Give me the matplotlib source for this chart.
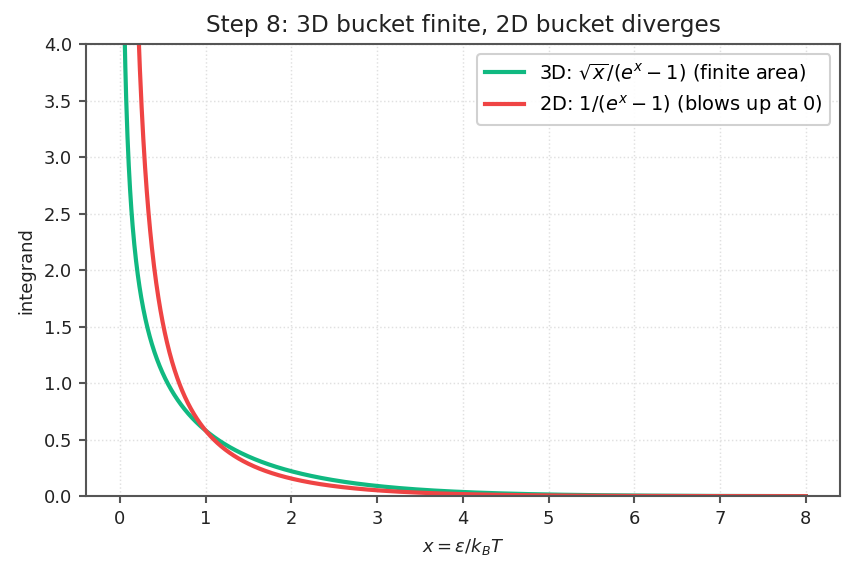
import matplotlib
matplotlib.use('Agg')
import matplotlib.pyplot as plt
import numpy as np

# Energy grid x = eps / k_B T and the two integrands named in the legend
x = np.linspace(0.005, 8, 1600)
integrand_3d = np.sqrt(x) / np.expm1(x)
integrand_2d = 1.0 / np.expm1(x)

labels = [r'3D: $\sqrt{x}/(e^x-1)$ (finite area)',
          r'2D: $1/(e^x-1)$ (blows up at 0)']
colors = ['#10b981', '#ef4444']

x_ticks = [0, 1, 2, 3, 4, 5, 6, 7, 8]
y_ticks = [0.0, 0.5, 1.0, 1.5, 2.0, 2.5, 3.0, 3.5, 4.0]

plt.rcParams['font.family'] = 'DejaVu Sans'
plt.rcParams['axes.edgecolor'] = '#555555'
plt.rcParams['xtick.color'] = '#555555'
plt.rcParams['ytick.color'] = '#555555'
plt.rcParams['xtick.labelcolor'] = '#222222'
plt.rcParams['ytick.labelcolor'] = '#222222'

fig, ax = plt.subplots(figsize=(859 / 150, 573 / 150), dpi=150)
fig.subplots_adjust(left=0.100, right=0.978, top=0.923, bottom=0.134)

ax.plot(x, integrand_3d, color=colors[0], linewidth=2.0, label=labels[0])
ax.plot(x, integrand_2d, color=colors[1], linewidth=2.0, label=labels[1])

ax.set_ylim(0, 4)
ax.set_xticks(x_ticks)
ax.set_yticks(y_ticks)
ax.tick_params(direction='out', length=3.5, width=1.0, labelsize=8.6, pad=3)
for s in ax.spines.values():
    s.set_linewidth(1.0)

ax.grid(True, linestyle=':', color='#e0e0e0', linewidth=0.7)
ax.set_xlabel(r'$x=\varepsilon/k_BT$', fontsize=8.6, color='#222222')
ax.set_ylabel('integrand', fontsize=8.6, color='#222222')
ax.set_title('Step 8: 3D bucket finite, 2D bucket diverges', fontsize=11.2, color='#222222')
ax.legend(loc='upper right', fontsize=9.3, framealpha=0.9, edgecolor='#cccccc')

fig.savefig('out.png', dpi=150)
